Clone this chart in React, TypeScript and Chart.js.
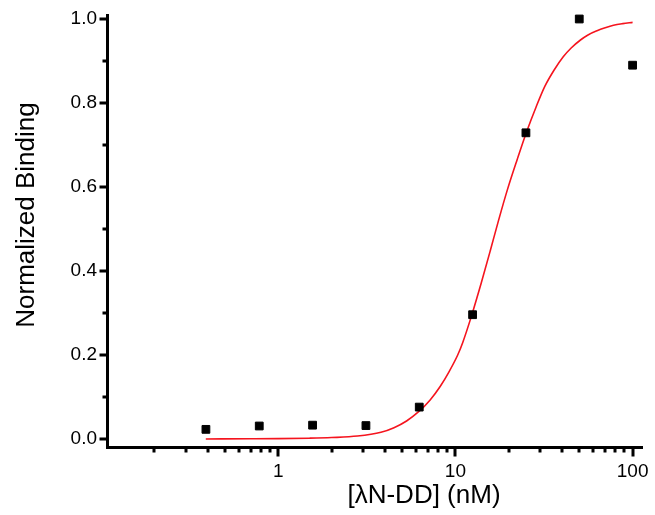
import React, { useEffect, useRef } from "react";
import { Chart, registerables } from "chart.js";

Chart.register(...registerables);

// Measured data points
const concentrations = [0.390625, 0.78125, 1.5625, 3.125, 6.25, 12.5, 25, 50, 100];
const binding = [0.023, 0.031, 0.033, 0.032, 0.076, 0.296, 0.729, 1.0, 0.89];

// Fitted curve
const fitX = [0.39, 0.7, 1.0, 1.5, 2.0, 2.8, 3.8, 4.5, 5.3, 6.2, 7.2, 8.2, 9.2, 10.3, 11.0, 12.3, 14.0, 15.7, 17.5, 19.6, 22.3, 25.2, 28.5, 32.0, 36.0, 40.6, 45.0, 50.8, 56.0, 63.0, 70.0, 78.0, 88.0, 100];
const fitY = [0.0002, 0.0005, 0.0009, 0.002, 0.0035, 0.007, 0.016, 0.027, 0.043, 0.065, 0.093, 0.125, 0.16, 0.2, 0.23, 0.292, 0.372, 0.447, 0.52, 0.592, 0.665, 0.731, 0.79, 0.84, 0.878, 0.91, 0.931, 0.95, 0.962, 0.972, 0.979, 0.985, 0.989, 0.992];

// Ticks
const xMajorTicks = [1, 10, 100];
const xMinorTicks = [0.2, 0.3, 0.4, 0.5, 0.6, 0.7, 0.8, 0.9, 2, 3, 4, 5, 6, 7, 8, 9, 20, 30, 40, 50, 60, 70, 80, 90];
const yMajorTicks = [0, 0.2, 0.4, 0.6, 0.8, 1.0];
const yMinorTicks = [0.1, 0.3, 0.5, 0.7, 0.9];

const xTitle = "[λN-DD] (nM)";
const yTitle = "Normalized Binding";

const X_MIN = 0.108;
const X_MAX = 113;
const Y_MIN = -0.019;
const Y_MAX = 1.0095;

const FONT = "'Liberation Sans', Arial, sans-serif";

const tickPlugin = {
  id: "customTicks",
  afterDraw(chart: any) {
    const { ctx, chartArea, scales } = chart;
    const xs = scales.x;
    const ys = scales.y;
    ctx.save();
    ctx.fillStyle = "#000";
    const axisW = 3;
    // x ticks (downward)
    const xBase = chartArea.bottom + axisW / 2;
    const drawX = (v: number, len: number) => {
      const px = xs.getPixelForValue(v);
      ctx.fillRect(Math.round(px) - 1.5, xBase - 1, 3, len + 1);
    };
    xMajorTicks.forEach((v) => drawX(v, 8));
    xMinorTicks.forEach((v) => drawX(v, 4));
    // y ticks (leftward)
    const yBase = chartArea.left - axisW / 2;
    const drawY = (v: number, len: number) => {
      const py = ys.getPixelForValue(v);
      ctx.fillRect(yBase - len, Math.round(py) - 1.5, len + 1, 3);
    };
    yMajorTicks.forEach((v) => drawY(v, 6));
    yMinorTicks.forEach((v) => drawY(v, 3));

    // axis titles
    ctx.font = `26px ${FONT}`;
    ctx.fillStyle = "#000";
    ctx.textAlign = "center";
    ctx.textBaseline = "alphabetic";
    ctx.fillText(xTitle, 424, 503);
    ctx.save();
    ctx.translate(34, 215);
    ctx.rotate(-Math.PI / 2);
    ctx.fillText(yTitle, 0, 0);
    ctx.restore();
    ctx.restore();
  },
};

export default function App() {
  const canvasRef = useRef<HTMLCanvasElement | null>(null);

  useEffect(() => {
    if (!canvasRef.current) return;
    const chart = new Chart(canvasRef.current, {
      type: "scatter",
      data: {
        datasets: [
          {
            label: "data",
            data: concentrations.map((x, i) => ({ x, y: binding[i] })),
            showLine: false,
            pointStyle: "rect",
            pointRadius: 5.5,
            pointBackgroundColor: "#000",
            pointBorderColor: "#000",
            pointBorderWidth: 1,
            clip: false,
          } as any,
          {
            label: "fit",
            data: fitX.map((x, i) => ({ x, y: fitY[i] })),
            showLine: true,
            pointRadius: 0,
            borderColor: "rgb(245,20,30)",
            borderWidth: 1.6,
            cubicInterpolationMode: "monotone",
            clip: false,
          } as any,
        ],
      },
      options: {
        animation: false,
        responsive: false,
        events: [],
        layout: { padding: { top: 15, right: 13, left: 0, bottom: 0 } },
        plugins: {
          legend: { display: false },
          tooltip: { enabled: false },
        },
        scales: {
          x: {
            type: "logarithmic",
            min: X_MIN,
            max: X_MAX,
            afterBuildTicks: (scale: any) => {
              scale.ticks = xMajorTicks.map((v) => ({ value: v, major: true }));
            },
            afterFit: (scale: any) => {
              scale.height = 68;
              scale.paddingLeft = 0;
              scale.paddingRight = 0;
            },
            grid: { display: true, drawOnChartArea: false, drawTicks: false },
            border: { display: true, color: "#000", width: 3 },
            ticks: {
              autoSkip: false,
              maxRotation: 0,
              padding: 13,
              color: "#000",
              font: { family: FONT, size: 19 },
              callback: (v: any) => String(v),
            },
            title: { display: false },
          },
          y: {
            type: "linear",
            min: Y_MIN,
            max: Y_MAX,
            afterBuildTicks: (scale: any) => {
              scale.ticks = yMajorTicks.map((v) => ({ value: v }));
            },
            afterFit: (scale: any) => {
              scale.width = 107;
              scale.paddingTop = 0;
              scale.paddingBottom = 0;
            },
            grid: { display: true, drawOnChartArea: false, drawTicks: false },
            border: { display: true, color: "#000", width: 3 },
            ticks: {
              padding: 10,
              color: "#000",
              font: { family: FONT, size: 19 },
              callback: (v: any) => Number(v).toFixed(1),
            },
            title: { display: false },
          },
        },
      },
      plugins: [tickPlugin],
    });
    return () => chart.destroy();
  }, []);

  return (
    <div style={{ position: "absolute", left: 0, top: 0, width: 655, height: 515, background: "#fff" }}>
      <canvas ref={canvasRef} width={655} height={515} />
    </div>
  );
}
